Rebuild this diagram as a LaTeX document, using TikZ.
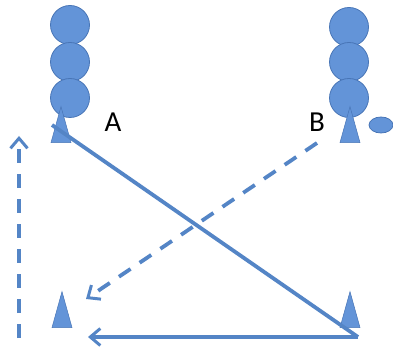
\documentclass[tikz,border=0pt]{standalone}
\usepackage{fontspec}
\setmainfont{Carlito}
\usepackage{tikz}
\usetikzlibrary{arrows.meta,positioning,shapes.geometric}
\definecolor{ballblue}{RGB}{99,148,216}
\definecolor{edgeblue}{RGB}{72,117,182}
\definecolor{lineblue}{RGB}{84,133,198}

\begin{document}
\begin{tikzpicture}[x=1pt, y=-1pt,
  ball/.style={circle, draw=edgeblue, fill=ballblue, line width=0.8pt, minimum size=39pt, inner sep=0pt},
  cone/.style={isosceles triangle, isosceles triangle stretches, shape border rotate=90,
    draw=edgeblue, fill=ballblue, line width=0.5pt, minimum width=20pt, minimum height=36pt, inner sep=0pt},
  puck/.style={ellipse, draw=edgeblue, fill=ballblue, line width=0.8pt, minimum width=24pt, minimum height=16pt, inner sep=0pt},
  plab/.style={font=\fontsize{29}{29}\selectfont, inner sep=0pt},
  run/.style={line width=3.8pt, lineblue, -{Straight Barb[length=10pt, width=17pt, line width=3pt]}},
  pass/.style={run, dash pattern=on 14pt off 11pt}
]
  \useasboundingbox (0,0) rectangle (393,352);
  % ---------------- players ----------------
  \node[ball] (a1) at (70,25) {};
  \node[ball] (a2) at (70,62) {};
  \node[ball] (a3) at (70,98) {};
  \node[cone] (ca) at (61,135) {};
  \node[plab] (la) at (113,122) {A};
  \node[ball] (b1) at (349,27) {};
  \node[ball] (b2) at (349,62) {};
  \node[ball] (b3) at (349,98) {};
  \node[cone] (cb) at (350,135) {};
  \node[plab] (lb) at (317,122) {B};
  \node[puck] (puck) at (381,125) {};
  % ---------------- bottom cones ----------------
  \node[cone] (cl) at (62,320) {};
  \node[cone] (cr) at (350,320) {};
  % free ends of the runs
  \coordinate (sa) at (52,125);
  \coordinate (er) at (358,337);
  \coordinate (eh) at (88,337);
  \coordinate (sb) at (317,143);
  \coordinate (eb) at (86,299);
  \coordinate (vs) at (19,338);
  \coordinate (ve) at (19,136);
  % ---------------- passes, then runs on top ----------------
  \draw[pass] (sb) -- (eb);
  \draw[pass] (vs) -- (ve);
  \draw[run, -] (sa) -- (er);
  \draw[run] (er) -- (eh);
\end{tikzpicture}
\end{document}
